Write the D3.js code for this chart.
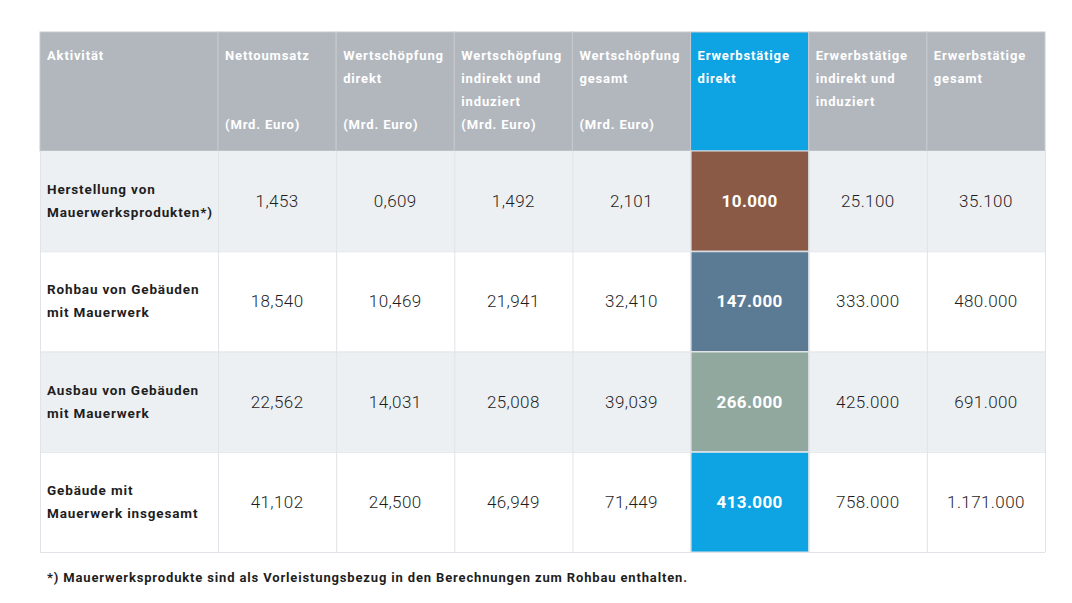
<!DOCTYPE html>
<html>
<head>
<meta charset="utf-8">
<script src="https://cdn.jsdelivr.net/npm/d3@7"></script>
<style>
  body { margin: 0; background: #fff; }
  svg { display: block; font-family: Roboto, "DejaVu Sans Condensed", sans-serif; }
</style>
</head>
<body>
<svg id="chart" width="1072" height="603"></svg>
<script>
// header lines, '' keeps an empty line so "(Mrd. Euro)" sits at the bottom
const headers = [
  ['Aktivität'],
  ['Nettoumsatz', '', '', '(Mrd. Euro)'],
  ['Wertschöpfung', 'direkt', '', '(Mrd. Euro)'],
  ['Wertschöpfung', 'indirekt und', 'induziert', '(Mrd. Euro)'],
  ['Wertschöpfung', 'gesamt', '', '(Mrd. Euro)'],
  ['Erwerbstätige', 'direkt'],
  ['Erwerbstätige', 'indirekt und', 'induziert'],
  ['Erwerbstätige', 'gesamt']
];
const activities = [
  ['Herstellung von', 'Mauerwerksprodukten*)'],
  ['Rohbau von Gebäuden', 'mit Mauerwerk'],
  ['Ausbau von Gebäuden', 'mit Mauerwerk'],
  ['Gebäude mit', 'Mauerwerk insgesamt']
];
const nettoumsatz = ['1,453', '18,540', '22,562', '41,102'];
const wsDirekt = ['0,609', '10,469', '14,031', '24,500'];
const wsIndirekt = ['1,492', '21,941', '25,008', '46,949'];
const wsGesamt = ['2,101', '32,410', '39,039', '71,449'];
const etDirekt = ['10.000', '147.000', '266.000', '413.000'];
const etIndirekt = ['25.100', '333.000', '425.000', '758.000'];
const etGesamt = ['35.100', '480.000', '691.000', '1.171.000'];
const highlight = ['#8a5a46', '#5b7a94', '#91a89f', '#0ea3e2'];
const footnote = '*) Mauerwerksprodukte sind als Vorleistungsbezug in den Berechnungen zum Rohbau enthalten.';

const columns = [nettoumsatz, wsDirekt, wsIndirekt, wsGesamt, etDirekt, etIndirekt, etGesamt];
const hlCol = 4;

const svg = d3.select('#chart');
const left = 40, firstW = 178, right = 1045;
const headTop = 32, headBottom = 151, bottom = 552;
const spacing = 0.85;

const x = d3.scaleBand().domain(d3.range(columns.length)).range([left + firstW, right]);
const y = d3.scaleBand().domain(d3.range(activities.length)).range([headBottom, bottom]);

const colX = i => (i === 0 ? left : x(i - 1));
const colW = i => (i === 0 ? firstW : x.bandwidth());

// header
const head = svg.append('g');
head.selectAll('rect')
  .data(headers)
  .join('rect')
  .attr('x', (d, i) => colX(i))
  .attr('y', headTop)
  .attr('width', (d, i) => colW(i))
  .attr('height', headBottom - headTop)
  .attr('fill', (d, i) => (i - 1 === hlCol ? '#0ea3e2' : '#b2b7be'))
  .attr('stroke', '#c6cace')
  .attr('stroke-width', 1);

head.selectAll('text')
  .data(headers)
  .join('text')
  .attr('x', (d, i) => colX(i) + 7)
  .attr('y', 60)
  .attr('fill', '#fff')
  .attr('font-size', 13)
  .attr('font-weight', 700)
  .attr('letter-spacing', spacing)
  .each(function(d) {
    const t = d3.select(this);
    d.forEach((line, k) => {
      t.append('tspan').attr('x', t.attr('x')).attr('y', 60 + k * 23).text(line);
    });
  });

// body rows
const body = svg.append('g');
const rows = body.selectAll('g.row')
  .data(activities)
  .join('g')
  .attr('class', 'row');

rows.append('rect')
  .attr('x', left)
  .attr('y', (d, i) => y(i))
  .attr('width', right - left)
  .attr('height', y.bandwidth())
  .attr('fill', (d, i) => (i % 2 === 0 ? '#edf0f3' : '#fff'));

// grid lines
const grid = svg.append('g').attr('stroke', '#e0e3e7').attr('stroke-width', 1);
grid.selectAll('line.v')
  .data(d3.range(columns.length + 1))
  .join('line')
  .attr('class', 'v')
  .attr('x1', i => (i === columns.length ? right : x(i)) + 0.5)
  .attr('x2', i => (i === columns.length ? right : x(i)) + 0.5)
  .attr('y1', headBottom)
  .attr('y2', bottom);
grid.append('line').attr('x1', left + 0.5).attr('x2', left + 0.5).attr('y1', headBottom).attr('y2', bottom);
grid.selectAll('line.h')
  .data(d3.range(activities.length))
  .join('line')
  .attr('class', 'h')
  .attr('x1', left)
  .attr('x2', right)
  .attr('y1', i => y(i) + y.bandwidth() + 0.5)
  .attr('y2', i => y(i) + y.bandwidth() + 0.5);

// highlighted cells
body.selectAll('rect.hl')
  .data(highlight)
  .join('rect')
  .attr('class', 'hl')
  .attr('x', x(hlCol))
  .attr('y', (d, i) => y(i))
  .attr('width', x.bandwidth())
  .attr('height', y.bandwidth())
  .attr('fill', d => d)
  .attr('stroke', '#dfe3e6')
  .attr('stroke-width', 1);

// activity labels
rows.append('text')
  .attr('x', left + 7)
  .attr('fill', '#1e1e1e')
  .attr('font-size', 13.5)
  .attr('font-weight', 700)
  .attr('letter-spacing', spacing)
  .each(function(d, i) {
    const t = d3.select(this);
    const cy = y(i) + y.bandwidth() / 2;
    d.forEach((line, k) => {
      t.append('tspan').attr('x', left + 7).attr('y', cy - 7 + k * 23).text(line);
    });
  });

// values
columns.forEach((col, c) => {
  body.append('g')
    .selectAll('text')
    .data(col)
    .join('text')
    .attr('x', x(c) + x.bandwidth() / 2)
    .attr('y', (d, i) => y(i) + y.bandwidth() / 2 + 6)
    .attr('text-anchor', 'middle')
    .attr('font-size', 17)
    .attr('font-weight', c === hlCol ? 700 : 300)
    .attr('letter-spacing', 0.4)
    .attr('fill', c === hlCol ? '#fff' : '#1e1e1e')
    .text(d => d);
});

svg.append('text')
  .attr('x', left + 7)
  .attr('y', 582)
  .attr('font-size', 13)
  .attr('font-weight', 700)
  .attr('letter-spacing', spacing)
  .attr('fill', '#1e1e1e')
  .text(footnote);
</script>
</body>
</html>
